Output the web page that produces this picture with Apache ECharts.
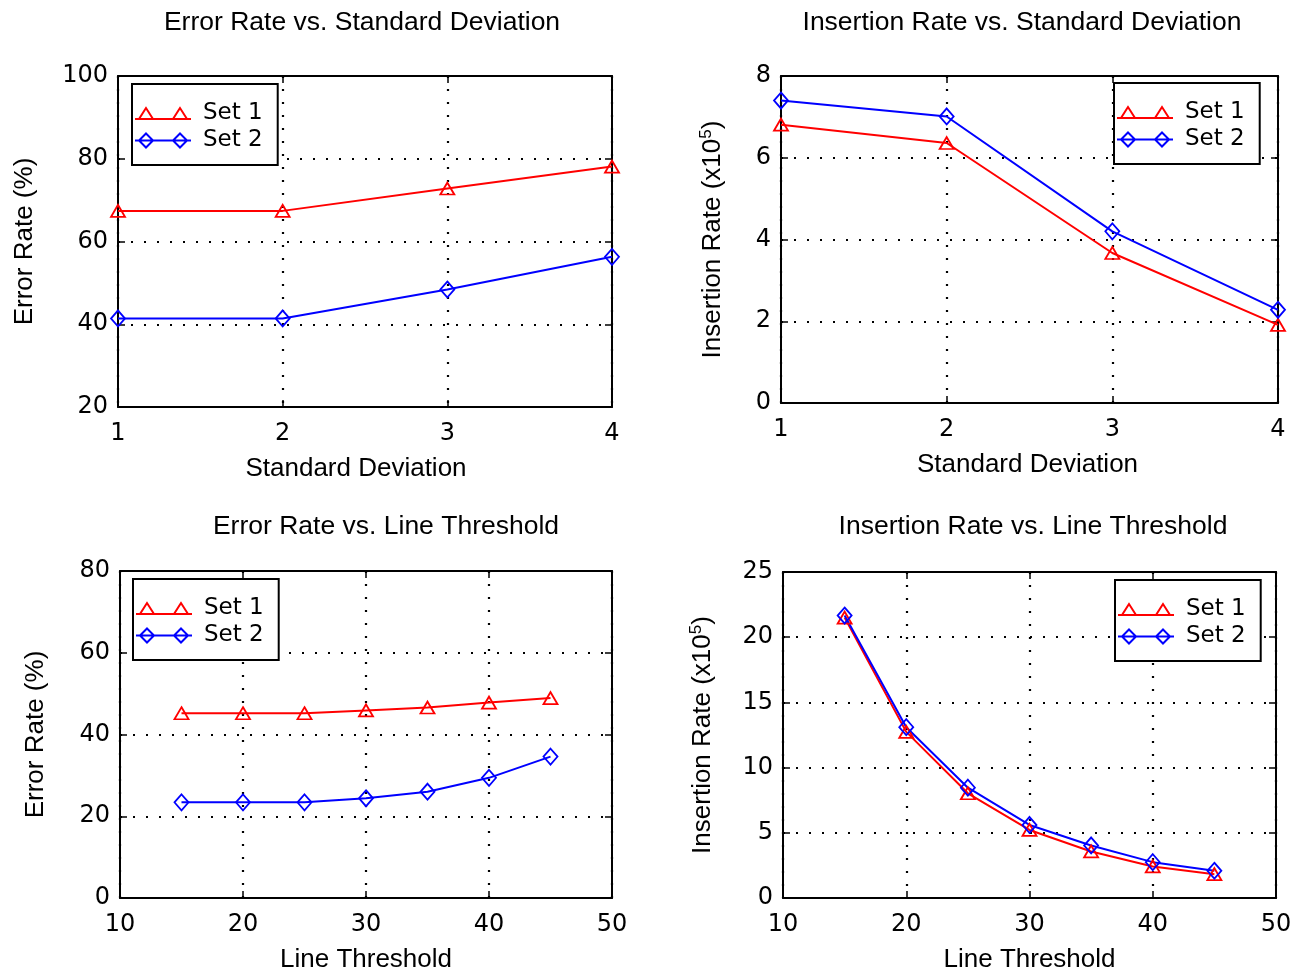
<!DOCTYPE html>
<html>
<head>
<meta charset="utf-8">
<script src="https://cdn.jsdelivr.net/npm/echarts@6/dist/echarts.min.js"></script>
<style>html,body{margin:0;padding:0;background:#fff}#c{width:1300px;height:974px}</style>
</head>
<body>
<div id="c"></div>
<script>
// ---- data ----
const seriesNames = ['Set 1', 'Set 2'];
const titles = ['Error Rate vs. Standard Deviation', 'Insertion Rate vs. Standard Deviation',
                'Error Rate vs. Line Threshold', 'Insertion Rate vs. Line Threshold'];
const xNames = ['Standard Deviation', 'Standard Deviation', 'Line Threshold', 'Line Threshold'];
const yNames = ['Error Rate (%)', 'Insertion Rate (x10{sup|5})', 'Error Rate (%)', 'Insertion Rate (x10{sup|5})'];

const sdX = [1, 2, 3, 4];
const errSd1 = [67.4, 67.4, 72.8, 78.1];
const errSd2 = [41.4, 41.4, 48.4, 56.3];
const insSd1 = [6.81, 6.36, 3.67, 1.91];
const insSd2 = [7.40, 7.01, 4.20, 2.28];

const ltX = [15, 20, 25, 30, 35, 40, 45];
const errLt1 = [45.2, 45.2, 45.2, 45.9, 46.6, 47.8, 48.9];
const errLt2 = [23.4, 23.4, 23.4, 24.4, 26.0, 29.4, 34.6];
const insLt1 = [21.5, 12.74, 8.03, 5.22, 3.57, 2.42, 1.83];
const insLt2 = [21.66, 13.1, 8.46, 5.6, 4.03, 2.75, 2.09];

// axis ranges: [min, max, interval]
const xRanges = [[1, 4, 1], [1, 4, 1], [10, 50, 10], [10, 50, 10]];
const yRanges = [[20, 100, 20], [0, 8, 2], [0, 80, 20], [0, 25, 5]];

// ---- layout / style ----
const grids = [
  {left: 118, top: 76, width: 494, height: 331},
  {left: 781, top: 76, width: 497, height: 327},
  {left: 120, top: 571, width: 492, height: 328},
  {left: 783, top: 572, width: 493, height: 327}
];
const titlePos = [[357, 4], [1017, 4], [381, 508], [1028, 508]];
const yNameGap = [80, 54, 71, 66];
const xNameShift = [18, 4, 0, 0];
const legendPos = [[132, 84], [1114, 83], [133, 579], [1115, 580]];

const TF = '"Liberation Sans", Arial, sans-serif';
const NF = '"DejaVu Sans", sans-serif';
const RED = '#ff0000', BLUE = '#0000ff';

const triIcon = 'path://M0 12 L56 12 M11 1 L4 12 L18 12 Z M45 1 L38 12 L52 12 Z';
const diaIcon = 'path://M0 8 L56 8 M11 1 L18 8 L11 15 L4 8 Z M45 1 L52 8 L45 15 L38 8 Z';

const dataSets = [[errSd1, errSd2, sdX], [insSd1, insSd2, sdX], [errLt1, errLt2, ltX], [insLt1, insLt2, ltX]];

const option = {
  animation: false,
  backgroundColor: '#fff',
  title: titles.map((t, i) => ({
    text: t, left: titlePos[i][0], top: titlePos[i][1], textAlign: 'center',
    textStyle: {fontFamily: TF, fontSize: 26.5, fontWeight: 'normal', color: '#000'}
  })),
  grid: grids,
  xAxis: [],
  yAxis: [],
  legend: legendPos.map(p => ({
    left: p[0], top: p[1], orient: 'vertical',
    backgroundColor: '#fff', borderColor: '#000', borderWidth: 2,
    padding: [16, 15, 11, 2], itemGap: 0, itemWidth: 56, itemHeight: 15,
    selectedMode: false,
    textStyle: {fontFamily: NF, fontSize: 23, color: '#000', lineHeight: 27, padding: [0, 0, 0, 7]},
    data: [
      {name: seriesNames[0], icon: triIcon, itemStyle: {color: 'rgba(0,0,0,0)', borderColor: RED, borderWidth: 2}},
      {name: seriesNames[1], icon: diaIcon, itemStyle: {color: 'rgba(0,0,0,0)', borderColor: BLUE, borderWidth: 2}}
    ]
  })),
  series: []
};

const axisLine = {show: true, onZero: false, lineStyle: {color: '#000', width: 2}};
const tickIn = {show: true, inside: true, length: 7, lineStyle: {color: '#000', width: 1.5}};
const dotted = {show: true, lineStyle: {color: '#000', width: 2.2, type: [2, 11]}};
const tickLabel = {fontFamily: NF, fontSize: 24, color: '#000'};

for (let i = 0; i < 4; i++) {
  const [xmin, xmax, xint] = xRanges[i];
  const [ymin, ymax, yint] = yRanges[i];
  option.xAxis.push({
    type: 'value', gridIndex: i, position: 'bottom', min: xmin, max: xmax, interval: xint,
    name: xNames[i], nameLocation: 'middle', nameGap: 49,
    nameTextStyle: {fontFamily: TF, fontSize: 26, color: '#000', padding: [0, xNameShift[i], 0, 0]},
    axisLine, axisTick: tickIn, splitLine: dotted,
    axisLabel: Object.assign({margin: 15}, tickLabel)
  });
  option.xAxis.push({
    type: 'value', gridIndex: i, position: 'top', min: xmin, max: xmax, interval: xint,
    axisLine, axisTick: tickIn, splitLine: {show: false}, axisLabel: {show: false}
  });
  option.yAxis.push({
    type: 'value', gridIndex: i, position: 'left', min: ymin, max: ymax, interval: yint,
    name: yNames[i], nameLocation: 'middle', nameGap: yNameGap[i],
    nameTextStyle: {fontFamily: TF, fontSize: 26, color: '#000',
      rich: {sup: {fontFamily: TF, fontSize: 17, color: '#000', verticalAlign: 'top', padding: [0, 0, 12, 0]}}},
    axisLine, axisTick: tickIn, splitLine: dotted,
    axisLabel: Object.assign({margin: 10}, tickLabel)
  });
  option.yAxis.push({
    type: 'value', gridIndex: i, position: 'right', min: ymin, max: ymax, interval: yint,
    axisLine, axisTick: tickIn, splitLine: {show: false}, axisLabel: {show: false}
  });
  const [s1, s2, xs] = dataSets[i];
  option.series.push({
    type: 'line', name: seriesNames[0], xAxisIndex: i * 2, yAxisIndex: i * 2,
    data: xs.map((x, k) => [x, s1[k]]),
    symbol: 'triangle', symbolSize: [14, 12],
    itemStyle: {color: 'rgba(0,0,0,0)', borderColor: RED, borderWidth: 1.8},
    lineStyle: {color: RED, width: 2}, z: 3
  });
  option.series.push({
    type: 'line', name: seriesNames[1], xAxisIndex: i * 2, yAxisIndex: i * 2,
    data: xs.map((x, k) => [x, s2[k]]),
    symbol: 'diamond', symbolSize: [14, 16],
    itemStyle: {color: 'rgba(0,0,0,0)', borderColor: BLUE, borderWidth: 1.8},
    lineStyle: {color: BLUE, width: 2}, z: 3
  });
}

const chart = echarts.init(document.getElementById('c'), null, {renderer: 'canvas'});
chart.setOption(option);
</script>
</body>
</html>
